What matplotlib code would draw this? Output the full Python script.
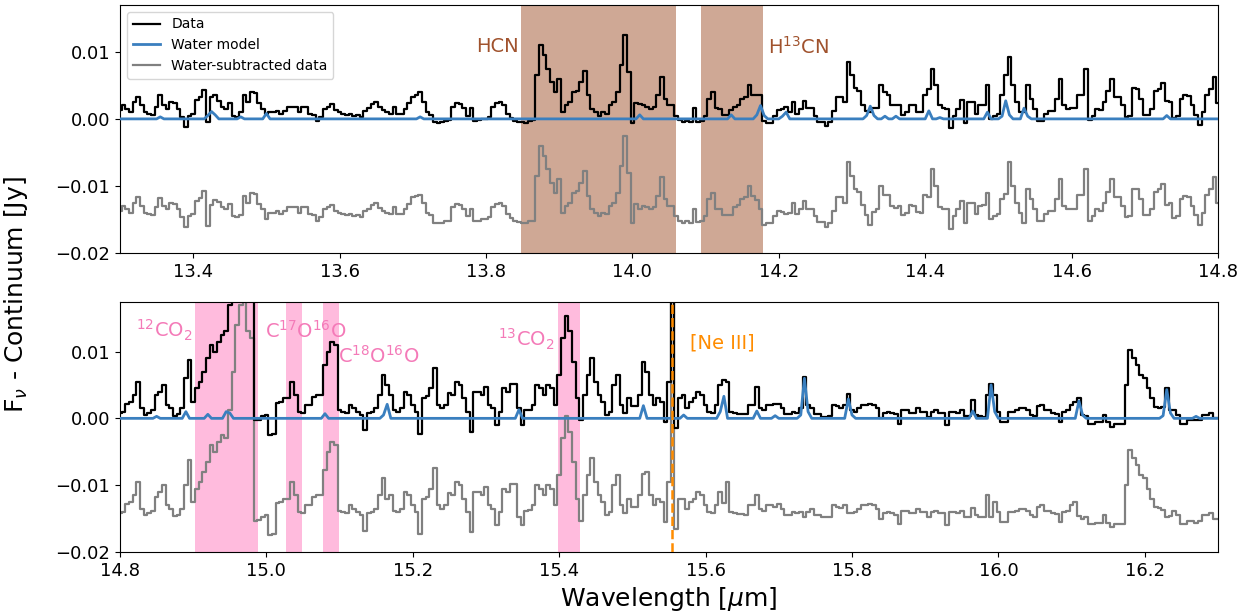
import numpy as np
import matplotlib
matplotlib.use("Agg")
import matplotlib.pyplot as plt

# wavelength grids (um), 0.005 um bins
wl_top = np.round(np.arange(13.300, 14.8001, 0.005), 3)
wl_bot = np.round(np.arange(14.800, 16.3001, 0.005), 3)

# continuum-subtracted flux, in mJy
flux_top = [
    1.3, 2.0, 1.5, 1.0, 2.5, 3.3, 2.0, 1.0, 0.8, 0.6,
    1.8, 3.5, 2.0, 1.5, 2.5, 2.3, 1.5, 0.3, -1.2, 0.5,
    0.8, 2.8, 3.2, 4.3, -0.5, 3.3, 3.5, 2.6, 1.8, 1.5,
    2.3, 0.5, 0.3, 1.0, 3.5, 2.5, 4.0, 3.8, 2.3, 1.5,
    0.8, 1.0, 1.0, 1.2, 0.8, 1.2, 1.8, 1.8, 1.8, 1.0,
    1.8, 1.8, 0.8, 0.6, -0.3, 0.3, 1.5, 1.8, 2.2, 1.3,
    1.0, 0.8, 0.6, 0.8, 0.5, 0.6, 0.3, 1.2, 1.6, 2.2,
    2.5, 1.7, 1.3, 1.0, 0.8, 1.8, 0.8, 0.8, 1.5, 2.3,
    3.3, 3.5, 4.0, 2.5, 1.0, 0.6, -0.5, -0.6, -0.5, -0.3,
    -0.2, 1.8, 2.3, 2.2, 1.6, 0.5, 1.6, -0.3, -0.2, 0.0,
    0.0, 0.3, 1.8, 2.3, 2.5, 2.0, 0.8, 0.2, -0.3, -0.4,
    -0.5, -0.6, -0.3, -0.2, 6.5, 11.0, 9.5, 7.5, 5.5, 4.0,
    6.0, 1.0, 2.0, 2.5, 4.0, 4.2, 5.5, 7.2, 3.5, 1.5,
    1.0, 0.5, 1.0, 0.8, 2.0, 2.5, 4.0, 8.0, 12.5, 7.0,
    -0.6, 2.3, 2.2, 2.0, 1.8, 1.5, 1.8, 3.5, 6.3, 3.0,
    2.0, 2.0, 0.5, -0.2, -0.5, -0.3, -0.5, 1.6, -0.4, -0.3,
    0.5, 3.0, 4.0, 1.6, 1.5, 0.6, 0.6, 1.3, 1.8, 2.1,
    3.0, 3.3, 5.0, 3.5, 3.5, 3.6, -0.3, -0.6, -0.6, 0.5,
    1.3, 1.5, 1.8, 1.0, 2.5, 0.8, 1.5, 2.7, 1.6, 1.6,
    0.5, -0.4, -0.4, -1.1, -0.5, 1.2, 3.3, 3.3, 2.5, 8.5,
    6.5, 4.6, 4.1, 2.1, 1.2, 1.0, 1.6, 1.6, 5.0, 4.0,
    3.6, 2.0, 2.1, 2.0, 0.6, 1.0, 2.1, 2.0, 1.1, 1.0,
    3.6, 4.5, 7.5, 5.0, 2.0, 1.6, 1.5, -1.4, 0.5, 1.5,
    2.8, -0.6, 2.5, 2.5, 0.8, 2.0, 2.1, 5.0, 0.0, 0.5,
    0.8, 3.5, 6.5, 9.2, 5.0, 2.5, 1.0, 1.0, 5.0, 3.0,
    1.5, -0.3, -0.3, 0.8, 1.2, 1.2, 3.0, 6.0, 2.0, 1.5,
    1.6, 1.6, 3.6, 3.6, 7.5, -0.2, 0.5, 1.5, 1.3, 2.5,
    4.1, 6.0, 3.3, 3.3, 2.0, 0.3, 0.5, 4.6, 4.5, 3.0,
    0.6, 0.6, 1.5, 4.1, 4.5, 5.3, 2.6, 2.5, 0.2, 0.5,
    3.0, 3.5, 3.4, 2.0, 0.6, -0.9, 1.0, 3.6, 4.5, 6.3,
    2.4,
]

flux_bot = [
    0.8, 1.0, 2.2, 2.5, 3.5, 5.5, 1.5, 0.5, 0.8, 1.2,
    3.5, 4.0, 5.0, 2.0, 1.5, 0.4, 0.6, 1.5, 6.0, 8.8,
    2.5, 4.5, 5.5, 7.0, 9.0, 11.0, 10.0, 11.5, 12.5, 13.0,
    17.0, 22.0, 29.0, 32.0, 33.0, 28.0, 27.0, -0.3, -0.2, 0.3,
    0.5, -2.5, -2.3, 2.3, 2.5, 3.0, 3.0, 5.5, 3.5, 1.0,
    0.8, 2.0, 2.0, 3.2, 3.5, 3.5, 8.0, 10.0, 11.5, 11.0,
    1.2, 1.0, 0.8, 2.0, 1.5, 1.0, 0.5, -1.8, 0.8, 1.0,
    1.5, 3.5, 6.5, 5.0, 3.5, 1.2, 1.0, 1.5, 4.0, 3.5,
    2.0, 1.0, -2.3, 3.0, 3.3, 4.5, 7.5, 2.0, 1.5, 2.0,
    3.8, 3.5, 5.5, 5.0, 3.0, 1.0, -2.0, 4.0, 4.0, 3.5,
    4.7, 2.0, 1.5, -1.0, 1.0, 4.5, 4.0, 5.2, 5.2, 1.5,
    -1.0, 1.2, 1.3, 2.0, 5.0, 4.5, 3.5, 5.0, 4.5, 2.0,
    6.5, 12.0, 15.3, 13.0, 8.5, 3.0, -0.3, 3.5, 6.5, 9.0,
    5.5, 3.5, 2.5, 0.5, 1.0, 5.0, 6.5, 2.0, 0.8, 3.0,
    1.8, 1.8, 3.5, 8.5, 7.0, 3.5, 2.0, 3.0, 2.5, -0.5,
    5.5, 45.0, -1.5, 3.0, 3.5, 1.5, 2.5, 3.0, 4.0, 3.5,
    2.0, 1.0, 0.8, 2.0, 5.0, 5.7, 5.5, 1.0, 0.8, 0.7,
    0.7, 0.6, 2.0, 2.0, 4.7, 1.5, 1.2, 2.0, 2.0, 2.2,
    2.2, 1.5, 0.6, 0.6, 1.0, 0.8, 1.5, 6.2, 2.0, 1.5,
    0.6, 0.6, 0.2, 0.2, 0.3, 2.0, 1.8, 1.6, 2.0, 3.7,
    1.3, 1.0, 1.5, 2.0, 2.0, 2.2, 2.0, 1.5, 0.0, 0.8,
    1.0, 0.8, 0.6, -0.8, 1.2, 1.2, 0.8, 0.8, 1.5, 1.0,
    1.0, 0.2, 1.0, 1.2, 0.8, 0.8, -1.0, 1.0, 1.0, 0.8,
    1.2, 0.3, 0.3, 2.7, 0.5, 0.3, 0.2, 3.5, 5.2, 3.5,
    1.0, -0.5, -0.5, 1.0, 1.0, 1.2, 1.5, 1.5, 1.2, 0.5,
    0.3, 1.8, 2.0, 1.2, 1.2, 0.8, 0.7, -0.5, 1.0, 1.2,
    2.0, 2.5, 3.0, 0.5, 0.3, -0.8, -0.8, -0.6, -0.6, 0.5,
    -0.6, -1.3, -0.8, -0.8, -0.8, 5.0, 10.3, 9.0, 8.0, 6.5,
    6.0, 4.5, 3.0, 1.7, 1.6, 1.7, 4.5, 1.2, 1.2, 0.5,
    -0.8, -0.8, -0.3, -0.3, -0.3, -0.3, 0.5, 0.5, 0.8, 0.0,
    0.0,
]

# water model: non-zero bins only (wavelength, mJy)
water_top = [
    (13.355, 0.3), (13.420, 0.5), (13.425, 1.1), (13.430, 0.6), (13.465, 0.3),
    (13.500, 0.8), (13.710, 0.3), (14.010, 0.6), (14.135, 0.6), (14.170, 0.6),
    (14.175, 2.0), (14.180, 0.5), (14.205, 0.4), (14.210, 1.0), (14.320, 0.5),
    (14.325, 1.9), (14.330, 0.5), (14.345, 0.4), (14.360, 0.4), (14.405, 1.2),
    (14.420, 0.2), (14.485, 1.0), (14.505, 0.4), (14.510, 2.7), (14.515, 0.6),
    (14.535, 1.6), (14.540, 0.4), (14.730, 0.5),
]
water_bot = [
    (14.850, 0.3), (14.890, 1.0), (14.920, 0.6), (14.945, 1.0), (14.950, 0.8),
    (15.080, 0.7), (15.160, 0.5), (15.165, 2.1), (15.345, 1.3), (15.515, 1.9),
    (15.570, 0.5), (15.620, 1.0), (15.625, 3.3), (15.670, 1.1), (15.695, 0.4),
    (15.730, 0.5), (15.735, 6.0), (15.740, 1.0), (15.795, 2.9), (15.800, 0.5),
    (15.965, 1.1), (15.990, 5.0), (15.995, 1.0), (16.110, 2.6), (16.115, 0.5),
    (16.225, 0.4), (16.230, 4.3), (16.235, 0.8), (16.270, 0.3),
]

offset = -0.015

# shaded molecule regions
hcn_spans = [(13.848, 14.060), (14.094, 14.178)]
co2_spans = [(14.902, 14.989), (15.027, 15.049), (15.077, 15.099), (15.398, 15.429)]
ne3 = 15.5537


def model_array(wl, peaks):
    m = np.zeros(len(wl))
    for w, v in peaks:
        m[np.argmin(np.abs(wl - w))] = v
    return m


def panel(ax, wl, flux, peaks, xlim, ylim):
    flux = np.array(flux) * 1e-3
    model = model_array(wl, peaks) * 1e-3
    ax.plot(wl, flux, color='black', lw=1.6, drawstyle='steps-mid', label='Data', zorder=3)
    ax.plot(wl, model, color='#3a7fbf', lw=2.0, label='Water model', zorder=4)
    ax.plot(wl, flux - model + offset, color='grey', lw=1.6, drawstyle='steps-mid',
            label='Water-subtracted data', zorder=2)
    ax.set_xlim(*xlim)
    ax.set_ylim(*ylim)
    ax.set_yticks([-0.02, -0.01, 0.0, 0.01])
    ax.tick_params(labelsize=13)


fig = plt.figure(figsize=(12.5, 6.14), dpi=100)
ax1 = fig.add_axes([0.096, 0.588, 0.8784, 0.404])
ax2 = fig.add_axes([0.096, 0.101, 0.8784, 0.407])

panel(ax1, wl_top, flux_top, water_top, (13.3, 14.8), (-0.02, 0.017))
panel(ax2, wl_bot, flux_bot, water_bot, (14.8, 16.3), (-0.02, 0.0174))

for a, b in hcn_spans:
    ax1.axvspan(a, b, color='sienna', alpha=0.5, lw=0, zorder=1)
for a, b in co2_spans:
    ax2.axvspan(a, b, color='hotpink', alpha=0.45, lw=0, zorder=1)
ax2.axvline(ne3, color='darkorange', ls='--', lw=1.8, zorder=5)

ax1.legend(loc='upper left', fontsize=10)

ax1.text(13.815, 0.0108, 'HCN', color='sienna', fontsize=14, ha='center', va='center')
ax1.text(14.185, 0.0108, 'H$^{13}$CN', color='sienna', fontsize=14, ha='left', va='center')

pink = '#f47ab8'
ax2.text(14.822, 0.0131, '$^{12}$CO$_2$', color=pink, fontsize=14, va='center')
ax2.text(14.998, 0.0131, 'C$^{17}$O$^{16}$O', color=pink, fontsize=14, va='center')
ax2.text(15.098, 0.0093, 'C$^{18}$O$^{16}$O', color=pink, fontsize=14, va='center')
ax2.text(15.316, 0.0118, '$^{13}$CO$_2$', color=pink, fontsize=14, va='center')
ax2.text(15.579, 0.0113, '[Ne III]', color='darkorange', fontsize=14, va='center')

ax2.set_xlabel('Wavelength [$\\mu$m]', fontsize=18)
fig.text(0.013, 0.52, 'F$_\\nu$ - Continuum [Jy]', fontsize=18, rotation=90,
         ha='center', va='center')

fig.savefig('out.png', dpi=100)
